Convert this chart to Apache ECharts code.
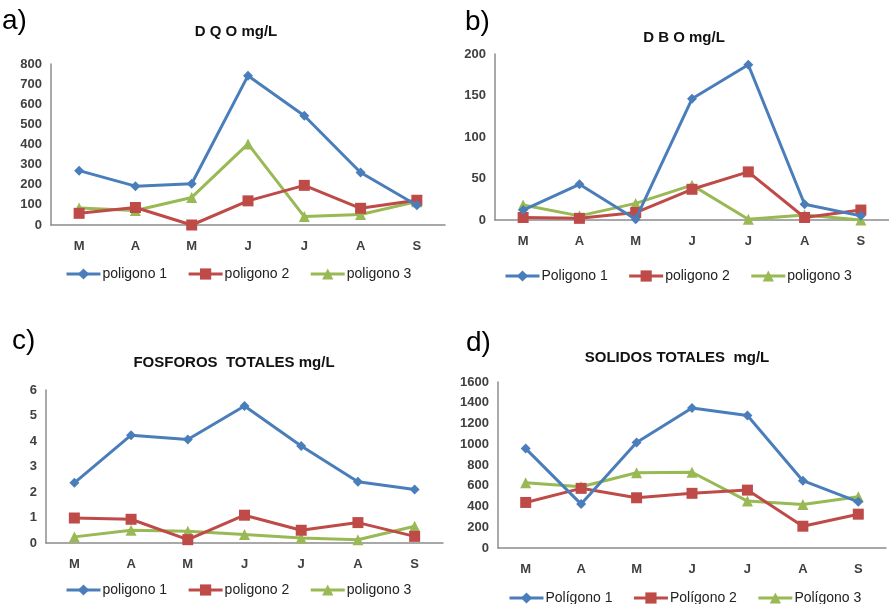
<!DOCTYPE html>
<html><head><meta charset="utf-8">
<script src="https://cdn.jsdelivr.net/npm/echarts@6/dist/echarts.min.js"></script>
<style>html,body{margin:0;padding:0;background:#fff}#c{width:889px;height:604px}</style>
</head><body><div id="c"></div>
<script>
const months = ['M','A','M','J','J','A','S'];
// a) DQO
const dqo1 = [270, 193, 205, 742, 543, 261, 98];
const dqo2 = [58, 87, 0, 120, 197, 83, 123];
const dqo3 = [85, 72, 137, 403, 42, 52, 116];
// b) DBO
const dbo1 = [12, 43, 1, 146, 187, 19, 5];
const dbo2 = [3, 2, 9, 37, 58, 3, 12];
const dbo3 = [18, 5, 20, 42, 1, 6, 0];
// c) Fosforos totales
const fos1 = [2.36, 4.23, 4.06, 5.37, 3.8, 2.4, 2.1];
const fos2 = [0.98, 0.93, 0.13, 1.09, 0.5, 0.8, 0.26];
const fos3 = [0.24, 0.5, 0.46, 0.33, 0.2, 0.13, 0.66];
// d) Solidos totales
const sol1 = [958, 423, 1016, 1349, 1278, 649, 445];
const sol2 = [439, 575, 484, 527, 558, 210, 326];
const sol3 = [629, 590, 726, 730, 452, 420, 494];

const namesA = ['poligono 1','poligono 2','poligono 3'];
const namesB = ['Poligono 1','poligono 2','poligono 3'];
const namesC = ['poligono 1','poligono 2','poligono 3'];
const namesD = ['Polígono 1','Polígono 2','Polígono 3'];
const titles = ['D Q O mg/L','D B O mg/L','FOSFOROS  TOTALES mg/L','SOLIDOS TOTALES  mg/L'];
const panelLabels = ['a)','b)','c)','d)'];
const yMax = [800, 200, 6, 1600];
const yStep = [100, 50, 1, 200];

const colors = ['#4A7EBB','#BE4B48','#98B954'];
const symbols = ['diamond','rect','triangle'];
const symSizes = [10, 11, 11];
const font = 'Liberation Sans, Arial, sans-serif';

const grids = [
  {left: 51, top: 64, width: 394, height: 161},
  {left: 495, top: 54, width: 402, height: 166},
  {left: 46, top: 390, width: 397, height: 153},
  {left: 498, top: 382, width: 388, height: 166}
];
const data = [[dqo1,dqo2,dqo3],[dbo1,dbo2,dbo3],[fos1,fos2,fos3],[sol1,sol2,sol3]];
const names = [namesA,namesB,namesC,namesD];
const legendPos = [{left: 60, top: 262},{left: 499, top: 264},{left: 60, top: 578},{left: 503, top: 586}];
const titlePos = [[236, 32],[684, 38],[234, 363],[677, 358]];
const labelPos = [[2, 7],[465, 8],[12, 327],[466, 329]];

const xAxis = [], yAxis = [], series = [], legend = [], graphic = [];
for (let i = 0; i < 4; i++) {
  xAxis.push({
    type: 'category', gridIndex: i, data: months, boundaryGap: true,
    axisLine: {lineStyle: {color: '#8C8C8C', width: 1.5}},
    axisTick: {show: false},
    axisLabel: {color: '#404040', fontSize: 13, fontWeight: 'bold', fontFamily: font, margin: 15}
  });
  yAxis.push({
    type: 'value', gridIndex: i, min: 0, max: yMax[i], interval: yStep[i],
    axisLine: {show: true, lineStyle: {color: '#8C8C8C', width: 1.5}},
    axisTick: {show: false}, splitLine: {show: false},
    axisLabel: {color: '#404040', fontSize: 13, fontWeight: 'bold', fontFamily: font, margin: 9,
      formatter: v => String(v)}
  });
  for (let k = 0; k < 3; k++) {
    series.push({
      type: 'line', name: names[i][k], xAxisIndex: i, yAxisIndex: i,
      data: data[i][k], symbol: symbols[k], symbolSize: symSizes[k],
      lineStyle: {color: colors[k], width: 3}, itemStyle: {color: colors[k]},
      z: 3 - k
    });
  }
  legend.push({
    data: names[i], left: legendPos[i].left, top: legendPos[i].top,
    itemWidth: 34, itemHeight: 14, itemGap: 20,
    lineStyle: {width: 3},
    textStyle: {color: '#222', fontSize: 14, fontFamily: font, padding: [0, 0, 0, -3]}
  });
  graphic.push({
    type: 'text', x: titlePos[i][0], y: titlePos[i][1],
    style: {text: titles[i], fill: '#111', font: 'bold 15px ' + font, textAlign: 'center', textVerticalAlign: 'middle'}
  });
  graphic.push({
    type: 'text', x: labelPos[i][0], y: labelPos[i][1],
    style: {text: panelLabels[i], fill: '#000', font: '28px ' + font}
  });
}

const chart = echarts.init(document.getElementById('c'), null, {renderer: 'canvas'});
chart.setOption({
  animation: false,
  backgroundColor: '#fff',
  grid: grids,
  xAxis, yAxis, series, legend, graphic
});
</script></body></html>
